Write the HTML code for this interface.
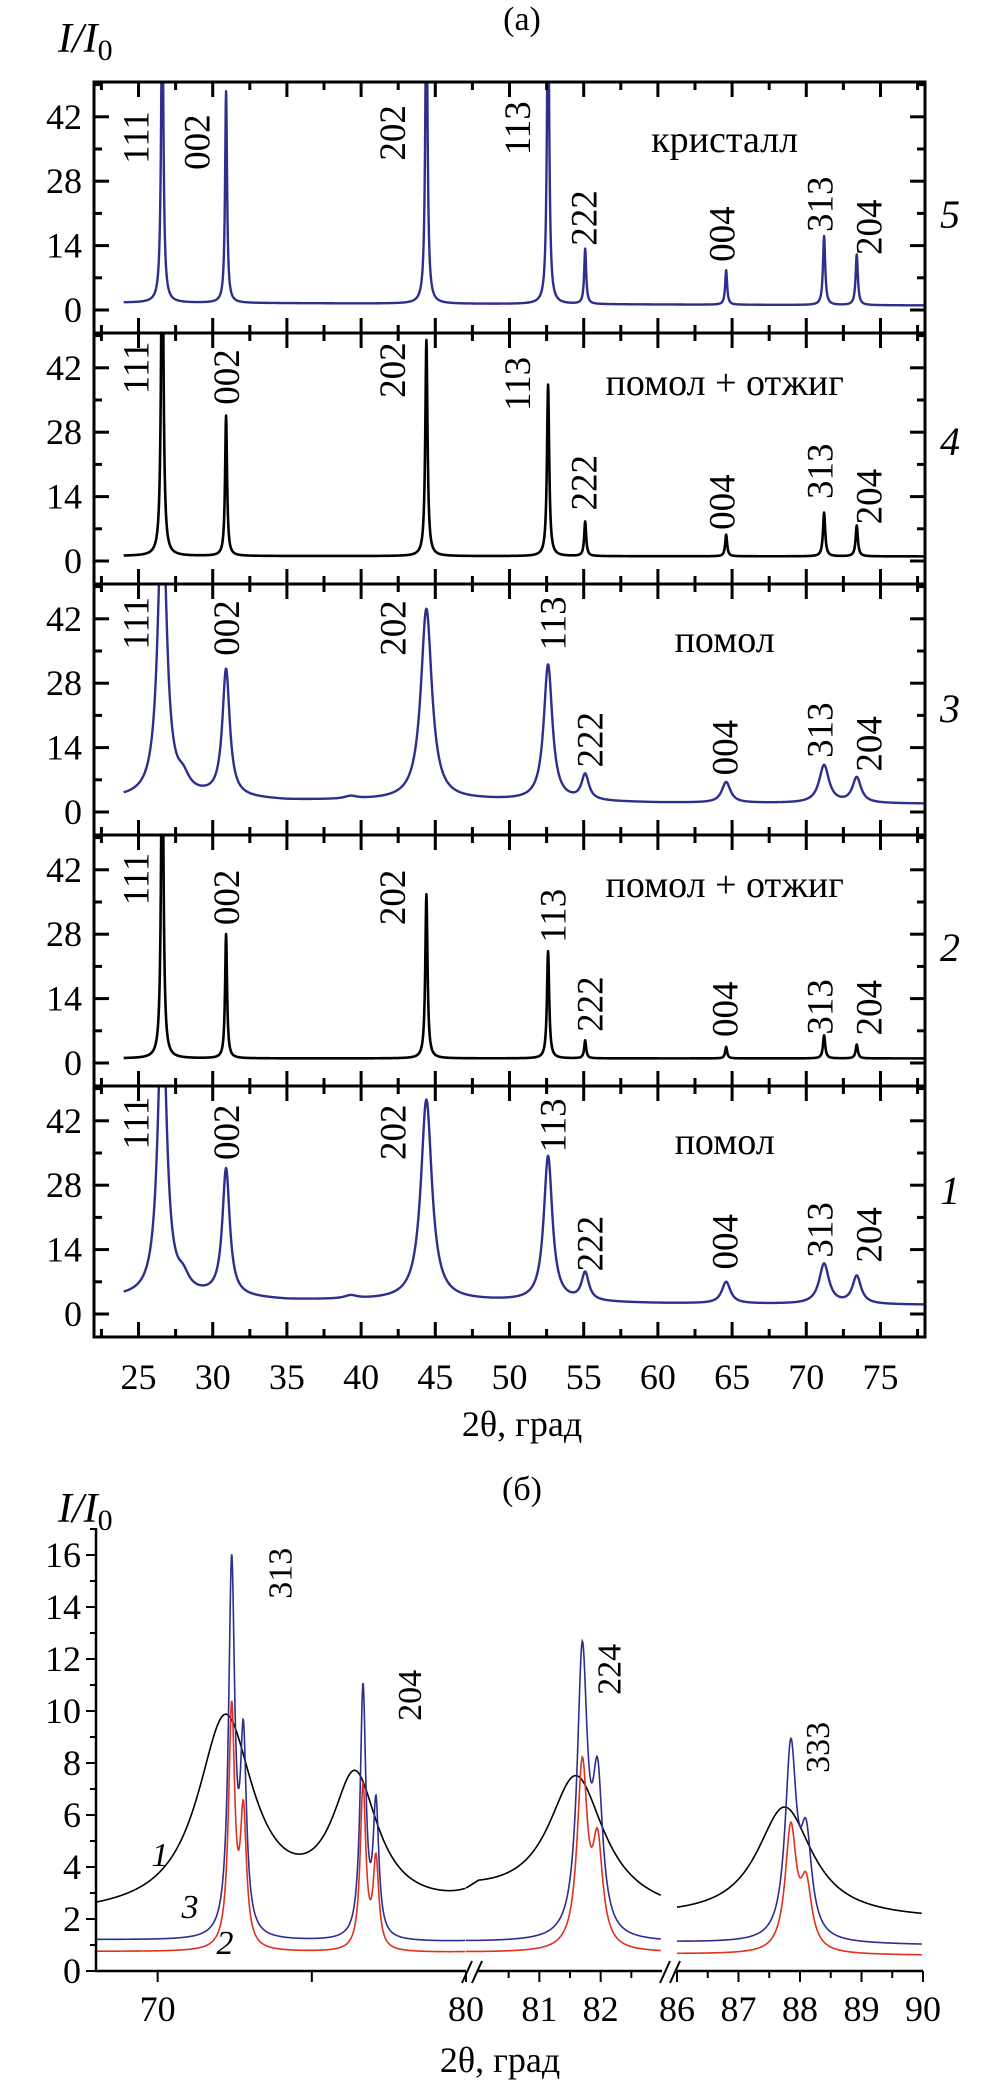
<!DOCTYPE html>
<html><head><meta charset="utf-8">
<style>
html,body{margin:0;padding:0;background:#fff;}
svg{display:block;font-family:"Liberation Serif","DejaVu Serif",serif;}
</style></head>
<body>
<svg id="fig" width="1004" height="2093" viewBox="0 0 1004 2093" xmlns="http://www.w3.org/2000/svg">
<rect x="0" y="0" width="1004" height="2093" fill="#fff"/>
<text x="522" y="30" font-size="34" text-anchor="middle">(a)</text>
<text x="58" y="52" font-size="42" font-style="italic">I/I<tspan font-style="normal" font-size="30" dy="8">0</tspan></text>
<g id="chartA"></g>
<text x="522" y="1436" font-size="36" text-anchor="middle">2θ, град</text>
<text x="522" y="1500" font-size="34" text-anchor="middle">(б)</text>
<text x="58" y="1522" font-size="42" font-style="italic">I/I<tspan font-style="normal" font-size="30" dy="8">0</tspan></text>
<g id="chartB"></g>
<text x="500" y="2072" font-size="36" text-anchor="middle">2θ, град</text>
</svg>
<script>
// ---------- Chart (a) data ----------
const peakNames = ["111","002","202","113","222","004","313","204"];
const peakPos = [26.6, 30.9, 44.4, 52.6, 55.1, 64.6, 71.2, 73.4];
const panelIds = ["5","4","3","2","1"];
const panelColors = ["#2e2e8c","#000","#2e2e8c","#000","#2e2e8c"];
const panelTexts = ["кристалл","помол + отжиг","помол","помол + отжиг","помол"];
const heights5 = [70, 46, 70, 70, 12, 7.5, 15, 11];
const heights4 = [80, 30.5, 47, 37.3, 7.5, 4.7, 9.5, 6.7];
const heights3 = [65, 27.5, 41.5, 29.5, 5.5, 4.5, 8.2, 5.5];
const heights2 = [80, 27, 35.7, 23.3, 3.9, 2.5, 5, 3];
const heights1 = [65, 27.5, 43.5, 31.5, 6, 4.7, 8.7, 6];
const widthsSharp = [0.09, 0.08, 0.09, 0.09, 0.08, 0.08, 0.09, 0.09];
const widthsBroad = [0.35, 0.3, 0.45, 0.35, 0.3, 0.35, 0.4, 0.35];
const base5 = [[24,1.6],[50,1.3],[78,1.0]];
const base4 = [[24,1.1],[78,1.0]];
const base3 = [[24,3.0],[29.5,3.3],[35,2.5],[48,2.6],[60,2.0],[78,1.8]];
const base2 = [[24,1.0],[78,1.0]];
const base1 = [[24,3.6],[30,3.8],[35,3.0],[45,3.0],[60,2.3],[78,2.0]];
const extraPos = [28.0, 39.3];
const extra3 = [3, 0.6];
const extra1 = [3, 0.7];
// label positions: [deg, value]
const labelsTop5 = [[24.9,37.5],[29.0,36.5],[42.2,38.5],[50.6,39.5],[55.1,20],[64.4,16.5],[71.0,23],[74.3,18]];
const labelsTop4 = [[24.9,42],[31.0,40],[42.2,41.5],[50.6,38.5],[55.1,17],[64.4,12.8],[71.0,19.5],[74.3,14]];
const labelsTop3 = [[24.9,41],[31.0,40],[42.2,40],[53.0,41],[55.5,15.7],[64.6,14],[71.0,17.8],[74.3,14.8]];
const labelsTop2 = [[24.9,40],[31.0,36],[42.2,36],[53.0,32],[55.5,12.8],[64.6,11.7],[71.0,12.2],[74.3,12]];
const labelsTop1 = [[24.9,41.5],[31.0,39.5],[42.2,39.5],[53.0,41],[55.5,15.3],[64.6,15.7],[71.0,18.3],[74.3,17.2]];
const yTickVals = [0, 14, 28, 42];

const panelHeights = [heights5,heights4,heights3,heights2,heights1];
const panelWidths = [widthsSharp,widthsSharp,widthsBroad,widthsSharp,widthsBroad];
const panelBases = [base5,base4,base3,base2,base1];
const panelExtras = [null,null,extra3,null,extra1];
const panelLabels = [labelsTop5,labelsTop4,labelsTop3,labelsTop2,labelsTop1];

const NS = "http://www.w3.org/2000/svg";
function mk(tag, attrs, parent){const e=document.createElementNS(NS,tag);for(const k in attrs)e.setAttribute(k,attrs[k]);parent.appendChild(e);return e;}
function interp(knots,d){if(d<=knots[0][0])return knots[0][1];for(let i=1;i<knots.length;i++){if(d<=knots[i][0]){const a=knots[i-1],b=knots[i];return a[1]+(b[1]-a[1])*(d-a[0])/(b[0]-a[0]);}}return knots[knots.length-1][1];}
function lor(d,p,h,w){return h*w*w/((d-p)*(d-p)+w*w);}

const AX0=94, AX1=925, AD0=22, AD1=78;
const xA = d => AX0 + (d-AD0)*(AX1-AX0)/(AD1-AD0);
const PTOP=82, PH=251;
const yA = (k,v) => PTOP + k*PH + 228 - v*4.6;

const gA = document.getElementById("chartA");
const defs = mk("defs",{},gA);
for(let k=0;k<5;k++){
  const top=PTOP+k*PH;
  const cp=mk("clipPath",{id:"clipA"+k},defs);
  mk("rect",{x:AX0,y:top,width:AX1-AX0,height:PH},cp);
  const g=mk("g",{},gA);
  
  
  // curve
  let dstr="";
  const H=panelHeights[k], W=panelWidths[k], B=panelBases[k], E=panelExtras[k];
  for(let d=24.0; d<=78.0001; d+=0.02){
    let v=interp(B,d);
    for(let i=0;i<peakPos.length;i++) v+=lor(d,peakPos[i],H[i],W[i]);
    if(E){for(let j=0;j<extraPos.length;j++) v+=lor(d,extraPos[j],E[j],0.5);}
    dstr+=(dstr?"L":"M")+xA(d).toFixed(2)+","+yA(k,v).toFixed(2);
  }
  const path=mk("path",{d:dstr,fill:"none",stroke:panelColors[k],"stroke-width":k%2?2.6:2.4,"stroke-linejoin":"round","clip-path":"url(#clipA"+k+")"},g);
  
  
  // frame
  const fr=mk("rect",{x:AX0,y:top,width:AX1-AX0,height:PH,fill:"none",stroke:"#000","stroke-width":3},g);
  
  
  // y ticks
  for(let v=0; v<=49; v+=7){
    const major = v%14===0;
    const L = major?15:8;
    const y=yA(k,v);
    mk("line",{x1:AX0,y1:y,x2:AX0+L,y2:y,stroke:"#000","stroke-width":3},g);
    mk("line",{x1:AX1,y1:y,x2:AX1-L,y2:y,stroke:"#000","stroke-width":3},g);
  }
  for(const v of yTickVals){
    const t=mk("text",{x:82,y:yA(k,v)+12,"font-size":36,"text-anchor":"end"},g);
    t.textContent=String(v);
    
    
  }
  // x ticks
  for(let d=22.5; d<78; d+=2.5){
    const major = Math.abs(d/5-Math.round(d/5))<1e-6;
    const L = major?15:8;
    const x=xA(d);
    mk("line",{x1:x,y1:top,x2:x,y2:top+L,stroke:"#000","stroke-width":3},g);
    mk("line",{x1:x,y1:top+PH,x2:x,y2:top+PH-L,stroke:"#000","stroke-width":3},g);
  }
  // peak labels
  const LB=panelLabels[k];
  for(let i=0;i<peakNames.length;i++){
    const cx=xA(LB[i][0]), cy=yA(k,LB[i][1]);
    const t=mk("text",{x:cx,y:cy,"font-size":37,"text-anchor":"middle","dominant-baseline":"central",transform:"rotate(-90 "+cx+" "+cy+")"},g);
    t.textContent=peakNames[i];
    
    
  }
  // sample text
  const st=mk("text",{x:xA(64.5),y:top+(k===0?70:k===2||k===4?68:62),"font-size":38,"text-anchor":"middle"},g);
  st.textContent=panelTexts[k];
  
  
  // curve number
  const nt=mk("text",{x:950,y:top+(k===0?146:k===1?122:k===2?138:k===3?126:118),"font-size":40,"font-style":"italic","text-anchor":"middle"},g);
  nt.textContent=panelIds[k];
  
  
}
// x tick labels (bottom)
const xTickLabelsA = [25,30,35,40,45,50,55,60,65,70,75];
for(const d of xTickLabelsA){
  const t=mk("text",{x:xA(d),y:1389,"font-size":36,"text-anchor":"middle"},gA);
  t.textContent=String(d);
  
  
}

// ---------- Chart (b) data ----------
const segDomains = [[68,80],[80,83],[86,90]];
const blackPeakPos = [72.2, 76.4, 81.6, 87.75];
const blackPeakH = [7.5, 5, 5, 4.3];
const blackPeakW = [1.1, 0.9, 0.55, 0.55];
const blackBase = [[68,2.1],[80,2.2],[80.01,2.5],[83,2.0],[86,1.9],[90,1.9]];
const dblPos = [72.4, 72.78, 76.66, 77.08, 81.70, 81.95, 87.85, 88.1];
const blueH = [14.2, 7.2, 9.6, 5.0, 10.8, 5.6, 7.3, 3.6];
const redH = [9.2, 5.0, 6.3, 3.4, 7.0, 3.8, 4.7, 2.4];
const dblW = [0.12, 0.12, 0.11, 0.11, 0.1, 0.1, 0.11, 0.11];
const blueBase = [[68,1.2],[80,1.1],[83,1.1],[86,1.1],[90,1.0]];
const redBase = [[68,0.75],[80,0.7],[83,0.7],[86,0.65],[90,0.6]];
const yTicksB = [0,2,4,6,8,10,12,14,16];
const xTickMajorB = [70,75,80,81,82,86,87,88,89,90];
const xTickLabelsB = ["70","","80","81","82","86","87","88","89","90"];

const segPix = [[96,466],[478,662],[677,923]];
function xB(d){
  for(let s=0;s<3;s++){const [a,b]=segDomains[s];if(d>=a-1e-9&&d<=b+1e-9){const [p,q]=segPix[s];return p+(d-a)*(q-p)/(b-a);}}
  return null;
}
const yB = v => 1971 - v*26;
const gB=document.getElementById("chartB");
function curveB(fn){
  let dstr="";
  for(let s=0;s<3;s++){
    const [a,b]=segDomains[s];
    const start = s===0?68:a;
    let first=true;
    for(let d=start; d<=b-0.02+1e-9; d+=0.01){
      dstr+=(first?"M":"L")+xB(d).toFixed(2)+","+yB(fn(d)).toFixed(2);first=false;
    }
  }
  return dstr;
}
const fBlack = d => {let v=interp(blackBase,d);for(let i=0;i<blackPeakPos.length;i++)v+=lor(d,blackPeakPos[i],blackPeakH[i],blackPeakW[i]);return v;};
const fBlue = d => {let v=interp(blueBase,d);for(let i=0;i<dblPos.length;i++)v+=lor(d,dblPos[i],blueH[i],dblW[i]);return v;};
const fRed = d => {let v=interp(redBase,d);for(let i=0;i<dblPos.length;i++)v+=lor(d,dblPos[i],redH[i],dblW[i]);return v;};
const c1=mk("path",{d:curveB(fBlack),fill:"none",stroke:"#000","stroke-width":1.6},gB);


const c3=mk("path",{d:curveB(fBlue),fill:"none",stroke:"#2e2e8c","stroke-width":1.6},gB);


const c2=mk("path",{d:curveB(fRed),fill:"none",stroke:"#e0301e","stroke-width":1.6},gB);


// axes
const ya=mk("line",{x1:96,y1:1528,x2:96,y2:1972,stroke:"#000","stroke-width":2.5},gB);


for(let s=0;s<3;s++){
  const xa=mk("line",{x1:s===0?95:segPix[s][0],y1:1971,x2:segPix[s][1],y2:1971,stroke:"#000","stroke-width":2.5},gB);
  
  
}
for(const bx of [466,664]){
  mk("line",{x1:bx-4,y1:1983,x2:bx+6,y2:1961,stroke:"#000","stroke-width":2},gB);
  mk("line",{x1:bx+6,y1:1983,x2:bx+16,y2:1961,stroke:"#000","stroke-width":2},gB);
}
for(let v=0; v<=17; v+=1){
  const major=v%2===0;
  mk("line",{x1:96,y1:yB(v),x2:96-(major?10:6),y2:yB(v),stroke:"#000","stroke-width":2},gB);
}
for(const v of yTicksB){
  const t=mk("text",{x:81,y:yB(v)+12,"font-size":36,"text-anchor":"end"},gB);
  t.textContent=String(v);
  
  
}
for(let i=0;i<xTickMajorB.length;i++){
  const x=xB(xTickMajorB[i]);
  mk("line",{x1:x,y1:1971,x2:x,y2:1982,stroke:"#000","stroke-width":2},gB);
  if(xTickLabelsB[i]){
    const t=mk("text",{x:x,y:2021,"font-size":36,"text-anchor":"middle"},gB);
    t.textContent=xTickLabelsB[i];
    
    
  }
}
for(const d of [80.5,81.5,82.5,86.5,87.5,88.5,89.5]){
  const x=xB(d);
  mk("line",{x1:x,y1:1971,x2:x,y2:1978,stroke:"#000","stroke-width":2},gB);
}
// peak labels chart b
const bLabelNames = ["313","204","224","333"];
const bLabelPos = [[74.0,15.3],[78.2,10.6],[82.15,11.6],[88.3,8.6]];
for(let i=0;i<bLabelNames.length;i++){
  const cx=xB(bLabelPos[i][0]), cy=yB(bLabelPos[i][1]);
  const t=mk("text",{x:cx,y:cy,"font-size":34,"text-anchor":"middle","dominant-baseline":"central",transform:"rotate(-90 "+cx+" "+cy+")"},gB);
  t.textContent=bLabelNames[i];
  
  
}
const curveNums=[["1",160,1866],["3",190,1918],["2",225,1954]];
for(const [n,x,y] of curveNums){
  const t=mk("text",{x:x,y:y,"font-size":34,"font-style":"italic","text-anchor":"middle"},gB);
  t.textContent=n;
  
  
}
</script>
</body></html>
